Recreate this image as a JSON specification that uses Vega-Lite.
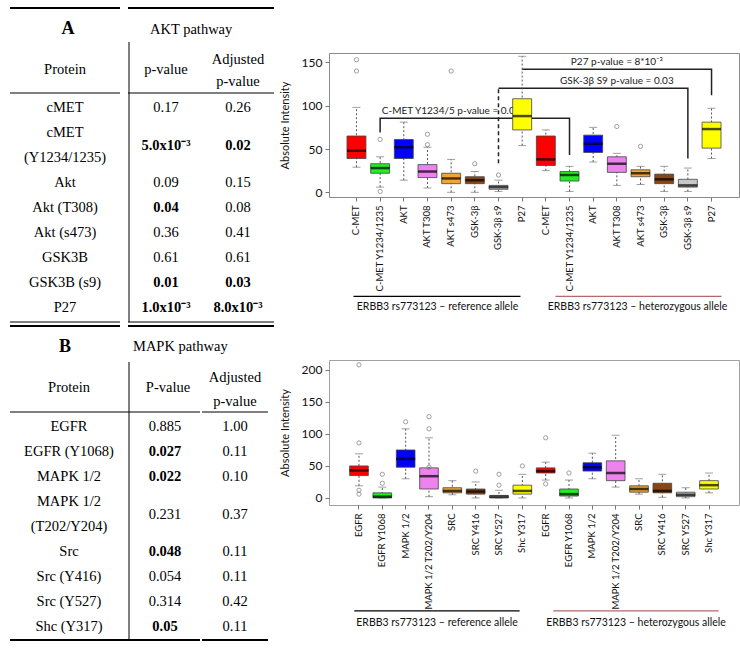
{
"$schema": "https://vega.github.io/schema/vega-lite/v6.json",
"padding": {"left": 9, "top": 7, "right": 4, "bottom": 4},
"background": "white",
"columns": 6,
"spacing": {"row": 163, "column": 0},
"bounds": "flush",
"align": "none",
"datasets": {
 "tabA": [
  {"line":0,"protein":"cMET","p":"0.17","pv":0.17,"adj":"0.26","av":0.26},
  {"line":1,"protein":"cMET"},
  {"line":2,"protein":"(Y1234/1235)"},
  {"line":1.5,"p":"5.0x10⁻³","pv":0.005,"adj":"0.02","av":0.02},
  {"line":3,"protein":"Akt","p":"0.09","pv":0.09,"adj":"0.15","av":0.15},
  {"line":4,"protein":"Akt (T308)","p":"0.04","pv":0.04,"adj":"0.08","av":0.08},
  {"line":5,"protein":"Akt (s473)","p":"0.36","pv":0.36,"adj":"0.41","av":0.41},
  {"line":6,"protein":"GSK3B","p":"0.61","pv":0.61,"adj":"0.61","av":0.61},
  {"line":7,"protein":"GSK3B (s9)","p":"0.01","pv":0.01,"adj":"0.03","av":0.03},
  {"line":8,"protein":"P27","p":"1.0x10⁻³","pv":0.001,"adj":"8.0x10⁻³","av":0.008}
 ],
 "tabB": [
  {"line":0,"protein":"EGFR","p":"0.885","pv":0.885,"adj":"1.00","av":1},
  {"line":1,"protein":"EGFR (Y1068)","p":"0.027","pv":0.027,"adj":"0.11","av":0.11},
  {"line":2,"protein":"MAPK 1/2","p":"0.022","pv":0.022,"adj":"0.10","av":0.1},
  {"line":3,"protein":"MAPK 1/2"},
  {"line":4,"protein":"(T202/Y204)"},
  {"line":3.5,"p":"0.231","pv":0.231,"adj":"0.37","av":0.37},
  {"line":5,"protein":"Src","p":"0.048","pv":0.048,"adj":"0.11","av":0.11},
  {"line":6,"protein":"Src (Y416)","p":"0.054","pv":0.054,"adj":"0.11","av":0.11},
  {"line":7,"protein":"Src (Y527)","p":"0.314","pv":0.314,"adj":"0.42","av":0.42},
  {"line":8,"protein":"Shc (Y317)","p":"0.05","pv":0.05,"adj":"0.11","av":0.11}
 ],
 "hdrA": [
  {"col":"protein","role":"panel","line":-3.16,"text":"A"},
  {"col":"p","role":"title","line":-3.12,"text":"AKT pathway"},
  {"col":"protein","role":"head","line":-1.52,"text":"Protein"},
  {"col":"p","role":"head","line":-1.52,"text":"p-value"},
  {"col":"adj","role":"head","line":-1.92,"text":"Adjusted"},
  {"col":"adj","role":"head","line":-1.04,"text":"p-value"}
 ],
 "hdrB": [
  {"col":"protein","role":"panel","line":-3.2,"text":"B"},
  {"col":"p","role":"title","line":-3.2,"text":"MAPK pathway"},
  {"col":"protein","role":"head","line":-1.56,"text":"Protein"},
  {"col":"p","role":"head","line":-1.56,"text":"P-value"},
  {"col":"adj","role":"head","line":-1.96,"text":"Adjusted"},
  {"col":"adj","role":"head","line":-1.0,"text":"p-value"}
 ],
 "hlinesA": [{"line":-4,"w":"thick"},{"line":-0.6,"w":"thin"},{"line":8.56,"w":"thin"},{"line":8.72,"w":"thick"}],
 "hlinesB": [{"line":-0.6,"w":"thin"},{"line":8.52,"w":"thick"}],
 "vlineA": [{"from":-2.64,"to":8.56}],
 "vlineB": [{"from":-2.6,"to":8.52}],
 "boxA": [
  {"key":"r:C-MET","lower":29,"q1":39,"median":48,"q3":65,"upper":98},
  {"key":"r:C-MET Y1234/1235","lower":6,"q1":22,"median":28,"q3":33,"upper":41},
  {"key":"r:AKT","lower":14,"q1":39,"median":52,"q3":61,"upper":81},
  {"key":"r:AKT T308","lower":5,"q1":17,"median":24,"q3":32,"upper":52},
  {"key":"r:AKT s473","lower":0,"q1":10,"median":16,"q3":22,"upper":38},
  {"key":"r:GSK-3β","lower":0,"q1":10,"median":14,"q3":18,"upper":24},
  {"key":"r:GSK-3β s9","lower":1,"q1":3.5,"median":6,"q3":8,"upper":14},
  {"key":"r:P27","lower":54,"q1":72,"median":88,"q3":108,"upper":157},
  {"key":"h:C-MET","lower":25,"q1":31,"median":38,"q3":65,"upper":72},
  {"key":"h:C-MET Y1234/1235","lower":1,"q1":13,"median":20,"q3":24,"upper":30},
  {"key":"h:AKT","lower":35,"q1":46,"median":56,"q3":66,"upper":75},
  {"key":"h:AKT T308","lower":8,"q1":23,"median":33,"q3":41,"upper":45},
  {"key":"h:AKT s473","lower":9,"q1":18,"median":22,"q3":26,"upper":30},
  {"key":"h:GSK-3β","lower":1,"q1":10,"median":15,"q3":21,"upper":30},
  {"key":"h:GSK-3β s9","lower":1,"q1":6,"median":8,"q3":15,"upper":28},
  {"key":"h:P27","lower":39,"q1":51,"median":73,"q3":81,"upper":97}
 ],
 "outA": [
  {"key":"r:C-MET","v":153},{"key":"r:C-MET","v":140},
  {"key":"r:C-MET Y1234/1235","v":61},{"key":"r:C-MET Y1234/1235","v":1},
  {"key":"r:AKT T308","v":67},{"key":"r:AKT T308","v":55},
  {"key":"r:AKT s473","v":140},
  {"key":"r:GSK-3β","v":33},
  {"key":"r:GSK-3β s9","v":20},
  {"key":"h:AKT T308","v":76},
  {"key":"h:AKT s473","v":53}
 ],
 "brL": [
  {"br":"c","ord":1,"key":"r:C-MET Y1234/1235","y":69},
  {"br":"c","ord":2,"key":"r:C-MET Y1234/1235","y":85.5},
  {"br":"c","ord":3,"key":"h:C-MET Y1234/1235","y":85.5},
  {"br":"c","ord":4,"key":"h:C-MET Y1234/1235","y":43},
  {"br":"g","ord":1,"key":"r:GSK-3β s9","y":120},
  {"br":"g","ord":2,"key":"h:GSK-3β s9","y":120},
  {"br":"g","ord":3,"key":"h:GSK-3β s9","y":39},
  {"br":"p","ord":1,"key":"r:P27","y":142},
  {"br":"p","ord":2,"key":"h:P27","y":142},
  {"br":"p","ord":3,"key":"h:P27","y":112}
 ],
 "brD": [
  {"key":"r:GSK-3β s9","lo":33.5,"hi":120}
 ],
 "noteA": [
  {"key":"r:AKT s473","y":85.5,"label":"C-MET Y1234/5 p-value = 0.02"},
  {"key":"h:AKT T308","y":120,"label":"GSK-3β S9 p-value = 0.03"},
  {"key":"h:AKT T308","y":142,"label":"P27 p-value = 8*10⁻³"}
 ],
 "boxB": [
  {"key":"r:EGFR","lower":19,"q1":35,"median":43,"q3":50,"upper":69},
  {"key":"r:EGFR Y1068","lower":0,"q1":0,"median":2,"q3":8,"upper":17},
  {"key":"r:MAPK 1/2","lower":30,"q1":48,"median":61,"q3":75,"upper":108},
  {"key":"r:MAPK 1/2 T202/Y204","lower":2,"q1":14,"median":34,"q3":47,"upper":94},
  {"key":"r:SRC","lower":5,"q1":8,"median":11,"q3":16,"upper":27},
  {"key":"r:SRC Y416","lower":0,"q1":6,"median":10,"q3":14,"upper":25},
  {"key":"r:SRC Y527","lower":0,"q1":0,"median":2,"q3":4,"upper":12},
  {"key":"r:Shc Y317","lower":0,"q1":6,"median":11,"q3":20,"upper":37},
  {"key":"h:EGFR","lower":28,"q1":39,"median":42,"q3":47,"upper":56},
  {"key":"h:EGFR Y1068","lower":0,"q1":3,"median":6,"q3":14,"upper":28},
  {"key":"h:MAPK 1/2","lower":30,"q1":42,"median":48,"q3":55,"upper":70},
  {"key":"h:MAPK 1/2 T202/Y204","lower":17,"q1":27,"median":39,"q3":58,"upper":98},
  {"key":"h:SRC","lower":6,"q1":9,"median":14,"q3":19,"upper":30},
  {"key":"h:SRC Y416","lower":1,"q1":8,"median":11,"q3":23,"upper":37},
  {"key":"h:SRC Y527","lower":0,"q1":2,"median":5,"q3":9,"upper":16},
  {"key":"h:Shc Y317","lower":8,"q1":14,"median":20,"q3":27,"upper":39}
 ],
 "outB": [
  {"key":"r:EGFR","v":208},{"key":"r:EGFR","v":86},{"key":"r:EGFR","v":12},{"key":"r:EGFR","v":6},
  {"key":"r:EGFR Y1068","v":37},{"key":"r:EGFR Y1068","v":23},
  {"key":"r:MAPK 1/2","v":119},
  {"key":"r:MAPK 1/2 T202/Y204","v":127},{"key":"r:MAPK 1/2 T202/Y204","v":108},{"key":"r:MAPK 1/2 T202/Y204","v":48},
  {"key":"r:SRC Y416","v":42},
  {"key":"r:SRC Y527","v":37},{"key":"r:SRC Y527","v":20},
  {"key":"r:Shc Y317","v":50},
  {"key":"h:EGFR","v":94},{"key":"h:EGFR","v":22},
  {"key":"h:EGFR Y1068","v":39}
 ],
 "grpA": [
  {"key":"r:C-MET","key2":"r:P27"},
  {"key":"h:C-MET","key2":"h:P27"}
 ],
 "grpB": [
  {"key":"r:EGFR","key2":"r:Shc Y317"},
  {"key":"h:EGFR","key2":"h:Shc Y317"}
 ]
},
"concat": [
 {"width": 110, "height": 144, "layer": [
  {"data": {"name": "hlinesA"}, "mark": {"type": "rule", "color": "#000"}, "encoding": {"y": {"field": "line", "type": "quantitative", "scale": {"domain": [-2.2, 3.56], "reverse": true, "nice": false, "zero": false}, "axis": null}, "strokeWidth": {"field": "w", "type": "ordinal", "scale": {"domain": ["thin", "thick"], "range": [1, 2]}, "legend": null}}},
  {"data": {"name": "hdrA"}, "transform": [{"filter": "datum.col == 'protein' && datum.role == 'panel'"}], "mark": {"type": "text", "font": "Liberation Serif", "fontSize": 18, "fontWeight": "bold", "baseline": "middle", "color": "#000", "dx": 3}, "encoding": {"y": {"field": "line", "type": "quantitative", "scale": {"domain": [-2.2, 3.56], "reverse": true, "nice": false, "zero": false}, "axis": null}, "text": {"field": "text"}}},
  {"data": {"name": "hdrA"}, "transform": [{"filter": "datum.col == 'protein' && datum.role == 'head'"}], "mark": {"type": "text", "font": "Liberation Serif", "fontSize": 14.5, "baseline": "middle", "color": "#000"}, "encoding": {"y": {"field": "line", "type": "quantitative", "scale": {"domain": [-2.2, 3.56], "reverse": true, "nice": false, "zero": false}, "axis": null}, "text": {"field": "text"}}},
  {"data": {"name": "tabA"}, "transform": [{"filter": "isValid(datum.protein)"}], "mark": {"type": "text", "font": "Liberation Serif", "fontSize": 14.5, "baseline": "middle", "color": "#000"}, "encoding": {"y": {"field": "line", "type": "quantitative", "scale": {"domain": [-2.2, 3.56], "reverse": true, "nice": false, "zero": false}, "axis": null}, "text": {"field": "protein"}}}
 ]},
 {"width": 2, "height": 144, "layer": [
  {"data": {"name": "hlinesA"}, "mark": {"type": "rule", "color": "#000"}, "encoding": {"y": {"field": "line", "type": "quantitative", "scale": {"domain": [-2.2, 3.56], "reverse": true, "nice": false, "zero": false}, "axis": null}, "strokeWidth": {"field": "w", "type": "ordinal", "scale": {"domain": ["thin", "thick"], "range": [1, 2]}, "legend": null}}},
  {"data": {"name": "vlineA"}, "mark": {"type": "rule", "color": "#000", "strokeWidth": 1}, "encoding": {"y": {"field": "from", "type": "quantitative", "scale": {"domain": [-2.2, 3.56], "reverse": true, "nice": false, "zero": false}, "axis": null}, "y2": {"field": "to"}}}
 ]},
 {"width": 72, "height": 144, "layer": [
  {"data": {"name": "hlinesA"}, "mark": {"type": "rule", "color": "#000"}, "encoding": {"y": {"field": "line", "type": "quantitative", "scale": {"domain": [-2.2, 3.56], "reverse": true, "nice": false, "zero": false}, "axis": null}, "strokeWidth": {"field": "w", "type": "ordinal", "scale": {"domain": ["thin", "thick"], "range": [1, 2]}, "legend": null}}},
  {"data": {"name": "hdrA"}, "transform": [{"filter": "datum.col == 'p' && datum.role == 'title'"}], "mark": {"type": "text", "font": "Liberation Serif", "fontSize": 14.5, "baseline": "middle", "align": "left", "dx": -16, "color": "#000"}, "encoding": {"y": {"field": "line", "type": "quantitative", "scale": {"domain": [-2.2, 3.56], "reverse": true, "nice": false, "zero": false}, "axis": null}, "text": {"field": "text"}}},
  {"data": {"name": "hdrA"}, "transform": [{"filter": "datum.col == 'p' && datum.role == 'head'"}], "mark": {"type": "text", "font": "Liberation Serif", "fontSize": 14.5, "baseline": "middle", "color": "#000"}, "encoding": {"y": {"field": "line", "type": "quantitative", "scale": {"domain": [-2.2, 3.56], "reverse": true, "nice": false, "zero": false}, "axis": null}, "text": {"field": "text"}}},
  {"data": {"name": "tabA"}, "transform": [{"filter": "isValid(datum.p) && datum.pv > 0.05"}], "mark": {"type": "text", "font": "Liberation Serif", "fontSize": 14.5, "baseline": "middle", "color": "#000"}, "encoding": {"y": {"field": "line", "type": "quantitative", "scale": {"domain": [-2.2, 3.56], "reverse": true, "nice": false, "zero": false}, "axis": null}, "text": {"field": "p"}}},
  {"data": {"name": "tabA"}, "transform": [{"filter": "isValid(datum.p) && datum.pv <= 0.05"}], "mark": {"type": "text", "font": "Liberation Serif", "fontSize": 14.5, "fontWeight": "bold", "baseline": "middle", "color": "#000"}, "encoding": {"y": {"field": "line", "type": "quantitative", "scale": {"domain": [-2.2, 3.56], "reverse": true, "nice": false, "zero": false}, "axis": null}, "text": {"field": "p"}}}
 ]},
 {"width": 72, "height": 144, "layer": [
  {"data": {"name": "hlinesA"}, "mark": {"type": "rule", "color": "#000"}, "encoding": {"y": {"field": "line", "type": "quantitative", "scale": {"domain": [-2.2, 3.56], "reverse": true, "nice": false, "zero": false}, "axis": null}, "strokeWidth": {"field": "w", "type": "ordinal", "scale": {"domain": ["thin", "thick"], "range": [1, 2]}, "legend": null}}},
  {"data": {"name": "hdrA"}, "transform": [{"filter": "datum.col == 'adj' && datum.role == 'head'"}], "mark": {"type": "text", "font": "Liberation Serif", "fontSize": 14.5, "baseline": "middle", "color": "#000"}, "encoding": {"y": {"field": "line", "type": "quantitative", "scale": {"domain": [-2.2, 3.56], "reverse": true, "nice": false, "zero": false}, "axis": null}, "text": {"field": "text"}}},
  {"data": {"name": "tabA"}, "transform": [{"filter": "isValid(datum.adj) && datum.av > 0.05"}], "mark": {"type": "text", "font": "Liberation Serif", "fontSize": 14.5, "baseline": "middle", "color": "#000"}, "encoding": {"y": {"field": "line", "type": "quantitative", "scale": {"domain": [-2.2, 3.56], "reverse": true, "nice": false, "zero": false}, "axis": null}, "text": {"field": "adj"}}},
  {"data": {"name": "tabA"}, "transform": [{"filter": "isValid(datum.adj) && datum.av <= 0.05"}], "mark": {"type": "text", "font": "Liberation Serif", "fontSize": 14.5, "fontWeight": "bold", "baseline": "middle", "color": "#000"}, "encoding": {"y": {"field": "line", "type": "quantitative", "scale": {"domain": [-2.2, 3.56], "reverse": true, "nice": false, "zero": false}, "axis": null}, "text": {"field": "adj"}}}
 ]},
 {"width": 55, "height": 144, "data": {"values": []}, "mark": "text"},
 {"width": 410, "height": 144, "view": {"stroke": "#8a8a8a"},
  "encoding": {"x": {"field": "key", "type": "nominal", "title": null, "scale": {"type": "band", "domain": ["r:C-MET","r:C-MET Y1234/1235","r:AKT","r:AKT T308","r:AKT s473","r:GSK-3β","r:GSK-3β s9","r:P27","h:C-MET","h:C-MET Y1234/1235","h:AKT","h:AKT T308","h:AKT s473","h:GSK-3β","h:GSK-3β s9","h:P27"], "paddingInner": 0.2, "paddingOuter": 0.76}, "axis": {"labelExpr": "substring(datum.label, 2)"}}},
  "layer": [
   {"data": {"name": "brL"}, "mark": {"type": "line", "color": "#222", "strokeWidth": 1.5, "interpolate": "linear"}, "encoding": {"y": {"field": "y", "type": "quantitative", "scale": {"domain": [-5.4, 160.8], "nice": false, "zero": false}, "axis": {"values": [0, 50, 100, 150], "title": "Absolute Intensity"}}, "detail": {"field": "br"}, "order": {"field": "ord"}}},
   {"data": {"name": "brD"}, "mark": {"type": "rule", "color": "#222", "strokeWidth": 1.5, "strokeDash": [4, 3]}, "encoding": {"y": {"field": "lo", "type": "quantitative", "scale": {"domain": [-5.4, 160.8], "nice": false, "zero": false}, "axis": {"values": [0, 50, 100, 150], "title": "Absolute Intensity"}}, "y2": {"field": "hi"}}},
   {"data": {"name": "noteA"}, "mark": {"type": "text", "fontSize": 10, "dy": -4, "baseline": "alphabetic", "color": "#222"}, "encoding": {"y": {"field": "y", "type": "quantitative", "scale": {"domain": [-5.4, 160.8], "nice": false, "zero": false}, "axis": {"values": [0, 50, 100, 150], "title": "Absolute Intensity"}}, "text": {"field": "label"}}},
   {"data": {"name": "boxA"}, "mark": {"type": "rule", "color": "#555", "strokeDash": [2, 2], "strokeWidth": 1}, "encoding": {"y": {"field": "lower", "type": "quantitative", "scale": {"domain": [-5.4, 160.8], "nice": false, "zero": false}, "axis": {"values": [0, 50, 100, 150], "title": "Absolute Intensity"}}, "y2": {"field": "upper"}}},
   {"data": {"name": "boxA"}, "mark": {"type": "tick", "color": "#777", "size": 8, "thickness": 1}, "encoding": {"y": {"field": "lower", "type": "quantitative", "scale": {"domain": [-5.4, 160.8], "nice": false, "zero": false}, "axis": {"values": [0, 50, 100, 150], "title": "Absolute Intensity"}}}},
   {"data": {"name": "boxA"}, "mark": {"type": "tick", "color": "#777", "size": 8, "thickness": 1}, "encoding": {"y": {"field": "upper", "type": "quantitative", "scale": {"domain": [-5.4, 160.8], "nice": false, "zero": false}, "axis": {"values": [0, 50, 100, 150], "title": "Absolute Intensity"}}}},
   {"data": {"name": "boxA"}, "mark": {"type": "bar", "stroke": "#444", "strokeWidth": 0.8}, "encoding": {"y": {"field": "q1", "type": "quantitative", "scale": {"domain": [-5.4, 160.8], "nice": false, "zero": false}, "axis": {"values": [0, 50, 100, 150], "title": "Absolute Intensity"}}, "y2": {"field": "q3"}, "color": {"field": "key", "type": "nominal", "legend": null, "scale": {"domain": ["r:C-MET","r:C-MET Y1234/1235","r:AKT","r:AKT T308","r:AKT s473","r:GSK-3β","r:GSK-3β s9","r:P27","h:C-MET","h:C-MET Y1234/1235","h:AKT","h:AKT T308","h:AKT s473","h:GSK-3β","h:GSK-3β s9","h:P27"], "range": ["#ff0000","#22ee22","#0000ff","#ee82ee","#f0a535","#8b4513","#cfcfcf","#ffff00","#ff0000","#22ee22","#0000ff","#ee82ee","#f0a535","#8b4513","#c8c8c8","#ffff00"]}}}},
   {"data": {"name": "boxA"}, "mark": {"type": "tick", "color": "#000", "size": 19, "thickness": 2.5}, "encoding": {"y": {"field": "median", "type": "quantitative", "scale": {"domain": [-5.4, 160.8], "nice": false, "zero": false}, "axis": {"values": [0, 50, 100, 150], "title": "Absolute Intensity"}}}},
   {"data": {"name": "outA"}, "mark": {"type": "point", "shape": "circle", "filled": false, "color": "#777", "size": 18, "strokeWidth": 1}, "encoding": {"y": {"field": "v", "type": "quantitative", "scale": {"domain": [-5.4, 160.8], "nice": false, "zero": false}, "axis": {"values": [0, 50, 100, 150], "title": "Absolute Intensity"}}}},
   {"data": {"name": "grpA"}, "transform": [{"filter": "indexof(datum.key, 'r:') == 0"}], "mark": {"type": "rule", "color": "#000", "strokeWidth": 1.2, "xOffset": -3, "x2Offset": -1.7}, "encoding": {"x2": {"field": "key2"}, "y": {"datum": -120.2, "type": "quantitative", "scale": {"domain": [-5.4, 160.8], "nice": false, "zero": false}, "axis": {"values": [0, 50, 100, 150], "title": "Absolute Intensity"}}}},
   {"data": {"name": "grpA"}, "transform": [{"filter": "indexof(datum.key, 'h:') == 0"}], "mark": {"type": "rule", "color": "#b36a6a", "strokeWidth": 1.2, "xOffset": 9.6, "x2Offset": 10}, "encoding": {"x2": {"field": "key2"}, "y": {"datum": -120.2, "type": "quantitative", "scale": {"domain": [-5.4, 160.8], "nice": false, "zero": false}, "axis": {"values": [0, 50, 100, 150], "title": "Absolute Intensity"}}}},
   {"data": {"values": [{"key": "r:AKT T308", "label": "ERBB3 rs773123 – reference allele"}]}, "mark": {"type": "text", "fontSize": 10.5, "dx": 10, "dy": 11, "baseline": "middle", "color": "#111"}, "encoding": {"y": {"datum": -120.2, "type": "quantitative", "scale": {"domain": [-5.4, 160.8], "nice": false, "zero": false}, "axis": {"values": [0, 50, 100, 150], "title": "Absolute Intensity"}}, "text": {"field": "label"}}},
   {"data": {"values": [{"key": "h:AKT s473", "label": "ERBB3 rs773123 – heterozygous allele"}]}, "mark": {"type": "text", "fontSize": 10.5, "dx": -3, "dy": 11, "baseline": "middle", "color": "#111"}, "encoding": {"y": {"datum": -120.2, "type": "quantitative", "scale": {"domain": [-5.4, 160.8], "nice": false, "zero": false}, "axis": {"values": [0, 50, 100, 150], "title": "Absolute Intensity"}}, "text": {"field": "label"}}}
  ]},
 {"width": 118, "height": 145, "layer": [
  {"data": {"name": "hlinesB"}, "mark": {"type": "rule", "color": "#000"}, "encoding": {"y": {"field": "line", "type": "quantitative", "scale": {"domain": [-2.68, 3.12], "reverse": true, "nice": false, "zero": false}, "axis": null}, "strokeWidth": {"field": "w", "type": "ordinal", "scale": {"domain": ["thin", "thick"], "range": [1, 2]}, "legend": null}}},
  {"data": {"name": "hdrB"}, "transform": [{"filter": "datum.col == 'protein' && datum.role == 'panel'"}], "mark": {"type": "text", "font": "Liberation Serif", "fontSize": 18, "fontWeight": "bold", "baseline": "middle", "color": "#000", "dx": -4}, "encoding": {"y": {"field": "line", "type": "quantitative", "scale": {"domain": [-2.68, 3.12], "reverse": true, "nice": false, "zero": false}, "axis": null}, "text": {"field": "text"}}},
  {"data": {"name": "hdrB"}, "transform": [{"filter": "datum.col == 'protein' && datum.role == 'head'"}], "mark": {"type": "text", "font": "Liberation Serif", "fontSize": 14.5, "baseline": "middle", "color": "#000"}, "encoding": {"y": {"field": "line", "type": "quantitative", "scale": {"domain": [-2.68, 3.12], "reverse": true, "nice": false, "zero": false}, "axis": null}, "text": {"field": "text"}}},
  {"data": {"name": "tabB"}, "transform": [{"filter": "isValid(datum.protein)"}], "mark": {"type": "text", "font": "Liberation Serif", "fontSize": 14.5, "baseline": "middle", "color": "#000"}, "encoding": {"y": {"field": "line", "type": "quantitative", "scale": {"domain": [-2.68, 3.12], "reverse": true, "nice": false, "zero": false}, "axis": null}, "text": {"field": "protein"}}}
 ]},
 {"width": 2, "height": 145, "layer": [
  {"data": {"name": "hlinesB"}, "mark": {"type": "rule", "color": "#000"}, "encoding": {"y": {"field": "line", "type": "quantitative", "scale": {"domain": [-2.68, 3.12], "reverse": true, "nice": false, "zero": false}, "axis": null}, "strokeWidth": {"field": "w", "type": "ordinal", "scale": {"domain": ["thin", "thick"], "range": [1, 2]}, "legend": null}}},
  {"data": {"name": "vlineB"}, "mark": {"type": "rule", "color": "#000", "strokeWidth": 1}, "encoding": {"y": {"field": "from", "type": "quantitative", "scale": {"domain": [-2.68, 3.12], "reverse": true, "nice": false, "zero": false}, "axis": null}, "y2": {"field": "to"}}}
 ]},
 {"width": 70, "height": 145, "layer": [
  {"data": {"name": "hlinesB"}, "mark": {"type": "rule", "color": "#000"}, "encoding": {"y": {"field": "line", "type": "quantitative", "scale": {"domain": [-2.68, 3.12], "reverse": true, "nice": false, "zero": false}, "axis": null}, "strokeWidth": {"field": "w", "type": "ordinal", "scale": {"domain": ["thin", "thick"], "range": [1, 2]}, "legend": null}}},
  {"data": {"name": "hdrB"}, "transform": [{"filter": "datum.col == 'p' && datum.role == 'title'"}], "mark": {"type": "text", "font": "Liberation Serif", "fontSize": 14.5, "baseline": "middle", "align": "left", "dx": -32, "color": "#000"}, "encoding": {"y": {"field": "line", "type": "quantitative", "scale": {"domain": [-2.68, 3.12], "reverse": true, "nice": false, "zero": false}, "axis": null}, "text": {"field": "text"}}},
  {"data": {"name": "hdrB"}, "transform": [{"filter": "datum.col == 'p' && datum.role == 'head'"}], "mark": {"type": "text", "font": "Liberation Serif", "fontSize": 14.5, "baseline": "middle", "color": "#000", "dx": 3}, "encoding": {"y": {"field": "line", "type": "quantitative", "scale": {"domain": [-2.68, 3.12], "reverse": true, "nice": false, "zero": false}, "axis": null}, "text": {"field": "text"}}},
  {"data": {"name": "tabB"}, "transform": [{"filter": "isValid(datum.p) && datum.pv > 0.05"}], "mark": {"type": "text", "font": "Liberation Serif", "fontSize": 14.5, "baseline": "middle", "color": "#000"}, "encoding": {"y": {"field": "line", "type": "quantitative", "scale": {"domain": [-2.68, 3.12], "reverse": true, "nice": false, "zero": false}, "axis": null}, "text": {"field": "p"}}},
  {"data": {"name": "tabB"}, "transform": [{"filter": "isValid(datum.p) && datum.pv <= 0.05"}], "mark": {"type": "text", "font": "Liberation Serif", "fontSize": 14.5, "fontWeight": "bold", "baseline": "middle", "color": "#000"}, "encoding": {"y": {"field": "line", "type": "quantitative", "scale": {"domain": [-2.68, 3.12], "reverse": true, "nice": false, "zero": false}, "axis": null}, "text": {"field": "p"}}}
 ]},
 {"width": 66, "height": 145, "layer": [
  {"data": {"name": "hlinesB"}, "mark": {"type": "rule", "color": "#000"}, "encoding": {"y": {"field": "line", "type": "quantitative", "scale": {"domain": [-2.68, 3.12], "reverse": true, "nice": false, "zero": false}, "axis": null}, "strokeWidth": {"field": "w", "type": "ordinal", "scale": {"domain": ["thin", "thick"], "range": [1, 2]}, "legend": null}}},
  {"data": {"name": "hdrB"}, "transform": [{"filter": "datum.col == 'adj' && datum.role == 'head'"}], "mark": {"type": "text", "font": "Liberation Serif", "fontSize": 14.5, "baseline": "middle", "color": "#000"}, "encoding": {"y": {"field": "line", "type": "quantitative", "scale": {"domain": [-2.68, 3.12], "reverse": true, "nice": false, "zero": false}, "axis": null}, "text": {"field": "text"}}},
  {"data": {"name": "tabB"}, "transform": [{"filter": "isValid(datum.adj) && datum.av > 0.05"}], "mark": {"type": "text", "font": "Liberation Serif", "fontSize": 14.5, "baseline": "middle", "color": "#000"}, "encoding": {"y": {"field": "line", "type": "quantitative", "scale": {"domain": [-2.68, 3.12], "reverse": true, "nice": false, "zero": false}, "axis": null}, "text": {"field": "adj"}}},
  {"data": {"name": "tabB"}, "transform": [{"filter": "isValid(datum.adj) && datum.av <= 0.05"}], "mark": {"type": "text", "font": "Liberation Serif", "fontSize": 14.5, "fontWeight": "bold", "baseline": "middle", "color": "#000"}, "encoding": {"y": {"field": "line", "type": "quantitative", "scale": {"domain": [-2.68, 3.12], "reverse": true, "nice": false, "zero": false}, "axis": null}, "text": {"field": "adj"}}}
 ]},
 {"width": 55, "height": 145, "data": {"values": []}, "mark": "text"},
 {"width": 410, "height": 145, "view": {"stroke": "#a0a0a0"},
  "encoding": {"x": {"field": "key", "type": "nominal", "title": null, "scale": {"type": "band", "domain": ["r:EGFR","r:EGFR Y1068","r:MAPK 1/2","r:MAPK 1/2 T202/Y204","r:SRC","r:SRC Y416","r:SRC Y527","r:Shc Y317","h:EGFR","h:EGFR Y1068","h:MAPK 1/2","h:MAPK 1/2 T202/Y204","h:SRC","h:SRC Y416","h:SRC Y527","h:Shc Y317"], "paddingInner": 0.2, "paddingOuter": 0.885}, "axis": {"labelExpr": "substring(datum.label, 2)"}}},
  "layer": [
   {"data": {"name": "boxB"}, "mark": {"type": "rule", "color": "#555", "strokeDash": [2, 2], "strokeWidth": 1}, "encoding": {"y": {"field": "lower", "type": "quantitative", "scale": {"domain": [-11, 215.6], "nice": false, "zero": false}, "axis": {"values": [0, 50, 100, 150, 200], "title": "Absolute Intensity"}}, "y2": {"field": "upper"}}},
   {"data": {"name": "boxB"}, "mark": {"type": "tick", "color": "#777", "size": 8, "thickness": 1}, "encoding": {"y": {"field": "lower", "type": "quantitative", "scale": {"domain": [-11, 215.6], "nice": false, "zero": false}, "axis": {"values": [0, 50, 100, 150, 200], "title": "Absolute Intensity"}}}},
   {"data": {"name": "boxB"}, "mark": {"type": "tick", "color": "#777", "size": 8, "thickness": 1}, "encoding": {"y": {"field": "upper", "type": "quantitative", "scale": {"domain": [-11, 215.6], "nice": false, "zero": false}, "axis": {"values": [0, 50, 100, 150, 200], "title": "Absolute Intensity"}}}},
   {"data": {"name": "boxB"}, "mark": {"type": "bar", "stroke": "#444", "strokeWidth": 0.8}, "encoding": {"y": {"field": "q1", "type": "quantitative", "scale": {"domain": [-11, 215.6], "nice": false, "zero": false}, "axis": {"values": [0, 50, 100, 150, 200], "title": "Absolute Intensity"}}, "y2": {"field": "q3"}, "color": {"field": "key", "type": "nominal", "legend": null, "scale": {"domain": ["r:EGFR","r:EGFR Y1068","r:MAPK 1/2","r:MAPK 1/2 T202/Y204","r:SRC","r:SRC Y416","r:SRC Y527","r:Shc Y317","h:EGFR","h:EGFR Y1068","h:MAPK 1/2","h:MAPK 1/2 T202/Y204","h:SRC","h:SRC Y416","h:SRC Y527","h:Shc Y317"], "range": ["#ee1111","#22aa22","#0000ee","#ee82ee","#f0a535","#6b3410","#d0d0d0","#eeee22","#c41010","#22cc22","#0000ee","#ee82ee","#f0a535","#a0522d","#d3d3d3","#eeee33"]}}}},
   {"data": {"name": "boxB"}, "mark": {"type": "tick", "color": "#000", "size": 19, "thickness": 2.5}, "encoding": {"y": {"field": "median", "type": "quantitative", "scale": {"domain": [-11, 215.6], "nice": false, "zero": false}, "axis": {"values": [0, 50, 100, 150, 200], "title": "Absolute Intensity"}}}},
   {"data": {"name": "outB"}, "mark": {"type": "point", "shape": "circle", "filled": false, "color": "#777", "size": 18, "strokeWidth": 1}, "encoding": {"y": {"field": "v", "type": "quantitative", "scale": {"domain": [-11, 215.6], "nice": false, "zero": false}, "axis": {"values": [0, 50, 100, 150, 200], "title": "Absolute Intensity"}}}},
   {"data": {"name": "grpB"}, "transform": [{"filter": "indexof(datum.key, 'r:') == 0"}], "mark": {"type": "rule", "color": "#000", "strokeWidth": 1.2, "xOffset": -4.7, "x2Offset": -2.7}, "encoding": {"x2": {"field": "key2"}, "y": {"datum": -176.6, "type": "quantitative", "scale": {"domain": [-11, 215.6], "nice": false, "zero": false}, "axis": {"values": [0, 50, 100, 150, 200], "title": "Absolute Intensity"}}}},
   {"data": {"name": "grpB"}, "transform": [{"filter": "indexof(datum.key, 'h:') == 0"}], "mark": {"type": "rule", "color": "#b36a6a", "strokeWidth": 1.2, "xOffset": 7.6, "x2Offset": 9.6}, "encoding": {"x2": {"field": "key2"}, "y": {"datum": -176.6, "type": "quantitative", "scale": {"domain": [-11, 215.6], "nice": false, "zero": false}, "axis": {"values": [0, 50, 100, 150, 200], "title": "Absolute Intensity"}}}},
   {"data": {"values": [{"key": "r:MAPK 1/2 T202/Y204", "label": "ERBB3 rs773123 – reference allele"}]}, "mark": {"type": "text", "fontSize": 10.5, "dx": 8, "dy": 12, "baseline": "middle", "color": "#111"}, "encoding": {"y": {"datum": -176.6, "type": "quantitative", "scale": {"domain": [-11, 215.6], "nice": false, "zero": false}, "axis": {"values": [0, 50, 100, 150, 200], "title": "Absolute Intensity"}}, "text": {"field": "label"}}},
   {"data": {"values": [{"key": "h:SRC", "label": "ERBB3 rs773123 – heterozygous allele"}]}, "mark": {"type": "text", "fontSize": 10.5, "dx": -3, "dy": 12, "baseline": "middle", "color": "#111"}, "encoding": {"y": {"datum": -176.6, "type": "quantitative", "scale": {"domain": [-11, 215.6], "nice": false, "zero": false}, "axis": {"values": [0, 50, 100, 150, 200], "title": "Absolute Intensity"}}, "text": {"field": "label"}}}
  ]}
],
"config": {
 "view": {"stroke": null},
 "font": "Lato",
 "axisX": {"domain": false, "grid": false, "ticks": true, "tickColor": "#777", "tickSize": 4, "labelAngle": -90, "labelFontSize": 9.5, "labelColor": "#111", "labelPadding": 4, "labelOverlap": false, "labelBound": false, "labelLimit": 0},
 "axisY": {"domain": false, "grid": false, "ticks": true, "tickColor": "#777", "tickSize": 4, "labelFontSize": 12, "labelColor": "#111", "labelPadding": 3, "titleFontSize": 11, "titleFontWeight": "normal", "titleColor": "#111", "titlePadding": 11}
}
}
